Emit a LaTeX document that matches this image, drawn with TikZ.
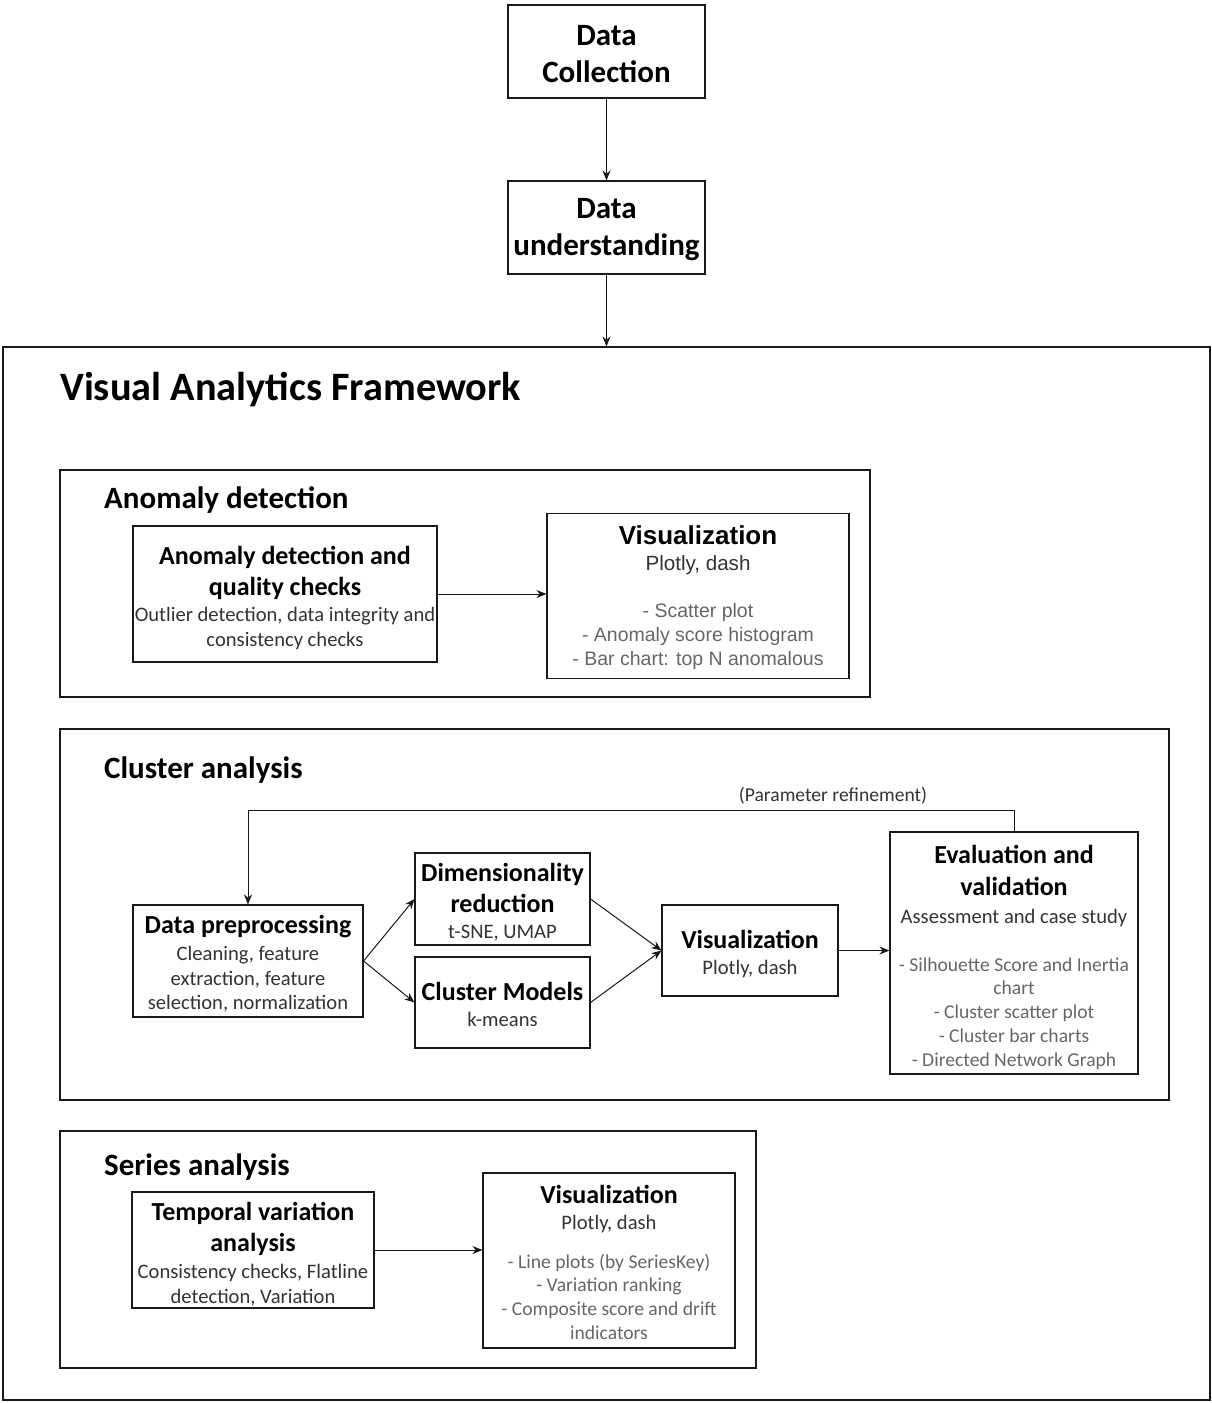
\documentclass[tikz,border=0pt]{standalone}
\usepackage{fontspec}
\setmainfont{Carlito}
\newfontfamily\arialfont{Liberation Sans}
\usepackage{tikz}
\usetikzlibrary{arrows.meta, positioning, calc}
\definecolor{subgray}{RGB}{51, 51, 51}
\definecolor{listgray}{RGB}{102, 102, 102}
\newcommand{\headln}[1]{{\fontsize{26}{24.5}\selectfont\bfseries\color{black}#1}}
\newcommand{\listln}[1]{{\fontsize{19.6}{24}\selectfont\color{listgray}#1}}
\newcommand{\topstrut}[1]{\rule{0pt}{#1}}

\begin{document}
\begin{tikzpicture}[
    x=1pt, y=-1pt,
    box/.style={rectangle, draw=black!90, line width=1.1pt, inner sep=0pt, align=center, text=subgray, font=\fontsize{20.6}{24.5}\selectfont},
    panel/.style={rectangle, draw=black!90, line width=1.1pt, inner sep=0pt},
    paneltitle/.style={anchor=base west, inner sep=0pt, font=\fontsize{31}{37}\selectfont\bfseries},
    arrow/.style={-{Stealth[length=10pt, width=8pt]}, line width=1pt, draw=black!90}
]
    \useasboundingbox (0,0) rectangle (1212,1403);

    % pipeline above the framework
    \node[box, minimum width=197pt, minimum height=93pt, text=black, font=\fontsize{31}{37}\selectfont\bfseries] (collect) at (606.5,51.5) {\topstrut{25pt}Data\\Collection};
    \node[box, minimum width=197pt, minimum height=93pt, text=black, font=\fontsize{31}{37}\selectfont\bfseries] (understand) at (606.5,227.5) {\topstrut{25pt}Data\\understanding};

    \node[panel, minimum width=1207pt, minimum height=1053pt] (frame) at (606.5,873.5) {};
    \node[anchor=base west, inner sep=0pt, font=\fontsize{40.3}{47}\selectfont\bfseries] (vaftitle) at (60,400) {Visual Analytics Framework};

    \draw[arrow] (collect) -- (understand);
    \draw[arrow] (understand) -- (understand.south |- frame.north);

    % anomaly detection
    \node[panel, minimum width=810pt, minimum height=227pt] (anomaly) at (465,583.5) {};
    \node[paneltitle] (anomalytitle) at (104,508) {Anomaly detection};
    \node[box, minimum width=304pt, minimum height=136pt] (quality) at (285,594) {\topstrut{26.5pt}\headln{Anomaly detection and}\\[6.5pt]
        \headln{quality checks}\\[2pt]
        Outlier detection, data integrity and\\[0.5pt]consistency checks};
    \node[box, minimum width=302pt, minimum height=165pt, font=\arialfont\fontsize{20.6}{24}\selectfont] (anomalyvis) at (698,596) {\topstrut{22pt}\headln{Visualization}\\[2.5pt]
        Plotly, dash\\[23pt]
        \listln{\fontsize{19.5}{24}\selectfont - Scatter plot}\\\listln{\fontsize{19.5}{24}\selectfont - Anomaly score histogram}\\
        \listln{\fontsize{19.5}{24}\selectfont - Bar chart: top N anomalous}};
    \draw[arrow] (quality.east) -- (quality.east -| anomalyvis.west);

    % cluster analysis
    \node[panel, minimum width=1109pt, minimum height=371pt] (cluster) at (614.5,914.5) {};
    \node[paneltitle] (clustertitle) at (104,778) {Cluster analysis};
    \node[box, minimum width=230pt, minimum height=112pt] (prep) at (248,961) {\topstrut{24.5pt}\headln{Data preprocessing}\\[2pt]
        Cleaning, feature\\[0.5pt]extraction, feature\\selection, normalization};
    \node[box, minimum width=175pt, minimum height=92pt] (dimred) at (502.5,899) {\topstrut{24.5pt}\headln{Dimensionality}\\[6.5pt]
        \headln{reduction}\\[1pt]t-SNE, UMAP};
    \node[box, minimum width=175pt, minimum height=91pt] (models) at (502.5,1002.5) {\topstrut{22.5pt}\headln{Cluster Models}\\[1pt]k-means};
    \node[box, minimum width=176pt, minimum height=91pt] (clustervis) at (750,950.5) {\topstrut{25.5pt}\headln{Visualization}\\[2pt]Plotly, dash};
    \node[box, minimum width=248pt, minimum height=242pt] (evaluation) at (1014,953) {\topstrut{27.5pt}\headln{Evaluation and}\\[7.5pt]
        \headln{validation}\\[3pt]
        Assessment and case study\\[23.5pt]
        \listln{- Silhouette Score and Inertia}\\[-1pt]\listln{chart}\\[-0.5pt]\listln{- Cluster scatter plot}\\[-1pt]
        \listln{- Cluster bar charts}\\[-0.5pt]\listln{- Directed Network Graph}};

    \draw[arrow] (prep.east) -- (dimred.west);
    \draw[arrow] (prep.east) -- (models.west);
    \draw[arrow] (dimred.east) -- (clustervis.west);
    \draw[arrow] (models.east) -- (clustervis.west);
    \draw[arrow] (clustervis.east) -- (clustervis.east -| evaluation.west);
    \coordinate (loopright) at ($(evaluation.north)+(0,-21)$);
    \draw[arrow] (evaluation.north) -- (loopright) -- (loopright -| prep.north) -- (prep.north);
    \node[inner sep=0pt, text=subgray, font=\fontsize{19.6}{24}\selectfont] (refine) at (833,796) {(Parameter refinement)};

    % series analysis
    \node[panel, minimum width=696pt, minimum height=237pt] (series) at (408,1249.5) {};
    \node[paneltitle] (seriestitle) at (104,1175) {Series analysis};
    \node[box, minimum width=242pt, minimum height=116pt] (temporal) at (253,1250) {\topstrut{26.5pt}\headln{Temporal variation}\\[6.5pt]
        \headln{analysis}\\[2pt]
        Consistency checks, Flatline\\[0.5pt]detection, Variation};
    \node[box, minimum width=252pt, minimum height=175pt] (seriesvis) at (609,1260.5) {\topstrut{22.5pt}\headln{Visualization}\\[1pt]
        Plotly, dash\\[14.5pt]
        \listln{- Line plots (by SeriesKey)}\\[-1pt]\listln{- Variation ranking}\\[-0.5pt]
        \listln{- Composite score and drift}\\[-1pt]\listln{indicators}};
    \draw[arrow] (temporal.east) -- (temporal.east -| seriesvis.west);
\end{tikzpicture}
\end{document}
